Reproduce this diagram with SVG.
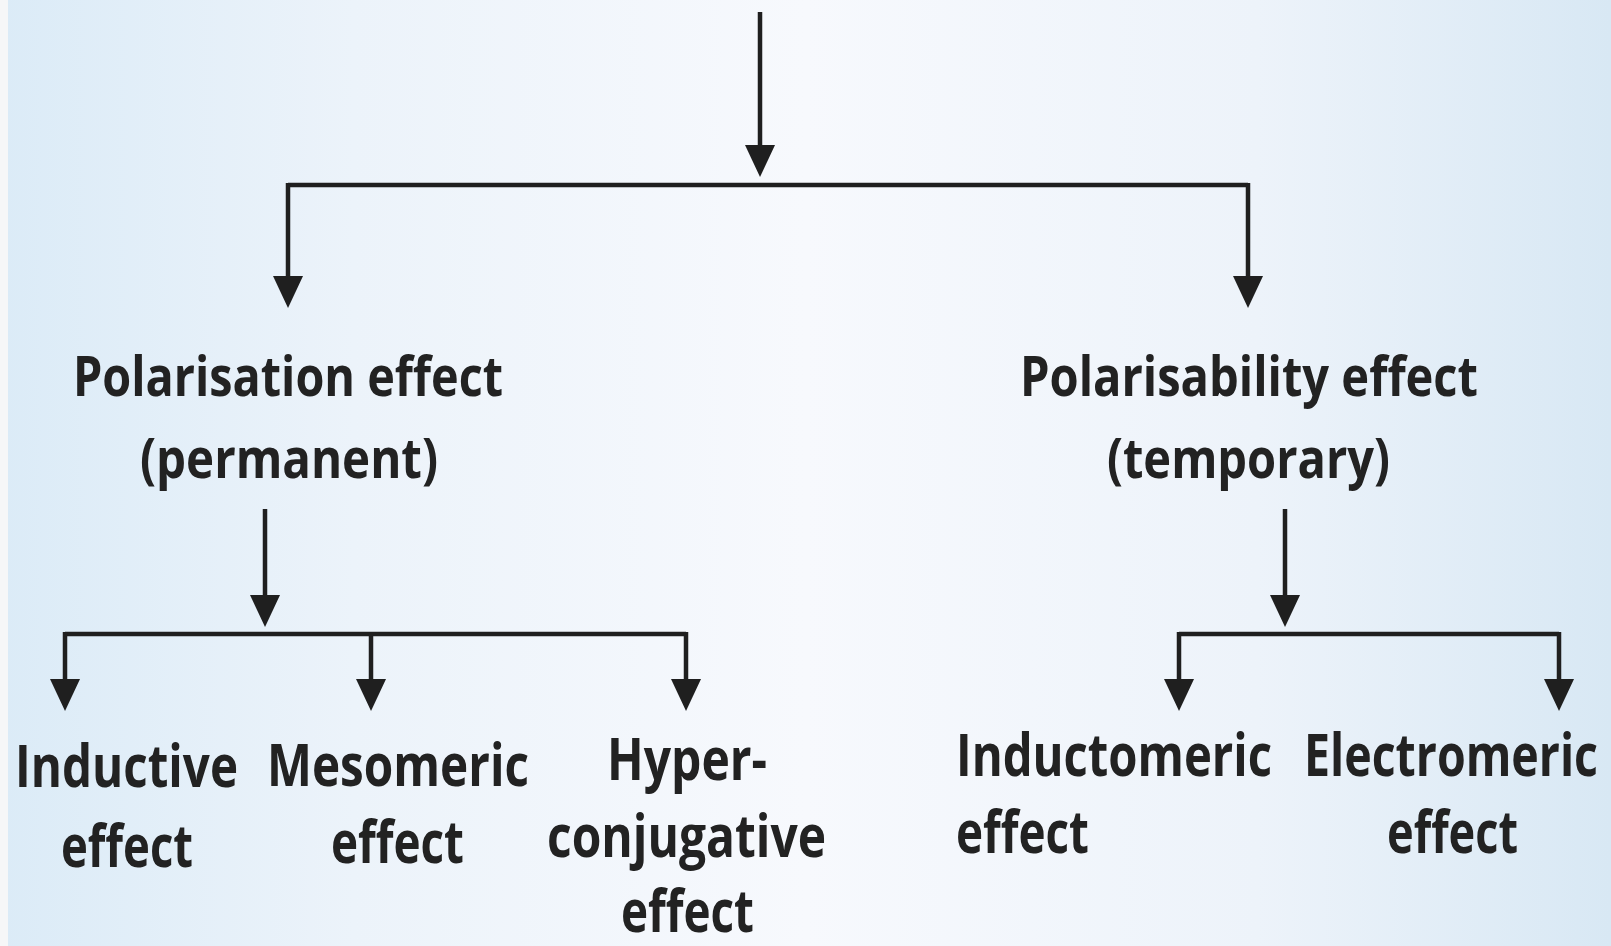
<svg xmlns="http://www.w3.org/2000/svg" width="1611" height="946" viewBox="0 0 1611 946">
  <defs>
    <linearGradient id="bg" x1="0" y1="0" x2="1" y2="0">
      <stop offset="0" stop-color="#dbebf7"/>
      <stop offset="0.22" stop-color="#ecf3fa"/>
      <stop offset="0.5" stop-color="#f7f9fd"/>
      <stop offset="0.78" stop-color="#edf3fa"/>
      <stop offset="1" stop-color="#d8e8f4"/>
    </linearGradient>
    <marker id="arr" viewBox="0 0 32 30" markerWidth="32" markerHeight="30" refX="20" refY="15" orient="auto" markerUnits="userSpaceOnUse">
      <path d="M0,0 L32,15 L0,30 Z" fill="#1f1f1f"/>
    </marker>
    <style>
      .t1 { font-family: "Open Sans", "Noto Sans", sans-serif; font-weight: 700; font-size: 56px; fill: #222222; }
      .t2 { font-family: "Open Sans", "Noto Sans", sans-serif; font-weight: 700; font-size: 59px; fill: #222222; }
      .ln { fill: none; stroke: #1f1f1f; stroke-width: 4.5; }
      .ar { fill: none; stroke: #1f1f1f; stroke-width: 4.5; marker-end: url(#arr); }
    </style>
  </defs>
  <rect x="0" y="0" width="1611" height="946" fill="url(#bg)"/>
  <rect x="0" y="0" width="8" height="946" fill="#f6f7f8"/>

  <g id="connectors">
    <path class="ar" d="M760 12 V165"/>
    <path class="ln" d="M288 185 H1248"/>
    <path class="ar" d="M288 183 V296"/>
    <path class="ar" d="M1248 183 V296"/>
    <path class="ar" d="M265 509 V615"/>
    <path class="ln" d="M65 634 H686"/>
    <path class="ar" d="M65 632 V699"/>
    <path class="ar" d="M371 634 V699"/>
    <path class="ar" d="M686 632 V699"/>
    <path class="ar" d="M1285 509 V615"/>
    <path class="ln" d="M1179 634 H1559"/>
    <path class="ar" d="M1179 632 V699"/>
    <path class="ar" d="M1559 632 V699"/>
  </g>

  <g id="polarisation">
    <text class="t1" x="73" y="396" textLength="430" lengthAdjust="spacingAndGlyphs">Polarisation effect</text>
    <text class="t1" x="140" y="478" textLength="298" lengthAdjust="spacingAndGlyphs">(permanent)</text>
  </g>
  <g id="polarisability">
    <text class="t1" x="1020" y="396" textLength="458" lengthAdjust="spacingAndGlyphs">Polarisability effect</text>
    <text class="t1" x="1107" y="478" textLength="283" lengthAdjust="spacingAndGlyphs">(temporary)</text>
  </g>
  <g id="inductive">
    <text class="t2" x="15" y="787" textLength="223" lengthAdjust="spacingAndGlyphs">Inductive</text>
    <text class="t2" x="61" y="867" textLength="132" lengthAdjust="spacingAndGlyphs">effect</text>
  </g>
  <g id="mesomeric">
    <text class="t2" x="267" y="786" textLength="262" lengthAdjust="spacingAndGlyphs">Mesomeric</text>
    <text class="t2" x="331" y="863" textLength="133" lengthAdjust="spacingAndGlyphs">effect</text>
  </g>
  <g id="hyperconjugative">
    <text class="t2" x="607" y="780" textLength="160" lengthAdjust="spacingAndGlyphs">Hyper-</text>
    <text class="t2" x="547" y="857" textLength="279" lengthAdjust="spacingAndGlyphs">conjugative</text>
    <text class="t2" x="621" y="932" textLength="133" lengthAdjust="spacingAndGlyphs">effect</text>
  </g>
  <g id="inductomeric">
    <text class="t2" x="956" y="776" textLength="316" lengthAdjust="spacingAndGlyphs">Inductomeric</text>
    <text class="t2" x="956" y="853" textLength="133" lengthAdjust="spacingAndGlyphs">effect</text>
  </g>
  <g id="electromeric">
    <text class="t2" x="1304" y="776" textLength="294" lengthAdjust="spacingAndGlyphs">Electromeric</text>
    <text class="t2" x="1387" y="853" textLength="131" lengthAdjust="spacingAndGlyphs">effect</text>
  </g>
</svg>
